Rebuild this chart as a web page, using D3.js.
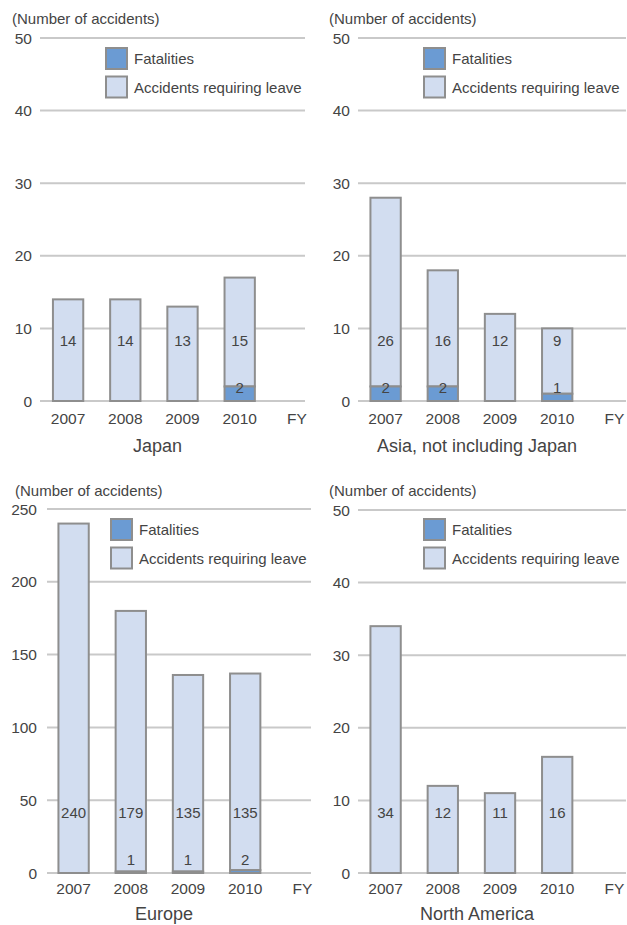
<!DOCTYPE html>
<html><head><meta charset="utf-8">
<script src="https://cdn.jsdelivr.net/npm/d3@7"></script>
<style>
html,body{margin:0;padding:0;background:#fff;}
text{font-family:"Liberation Sans",Arial,sans-serif;fill:#444;}
</style></head>
<body>
<svg id="c" width="627" height="925"></svg>
<script>
const years = ["2007","2008","2009","2010"];
const xCats = ["2007","2008","2009","2010","FY"];
const seriesNames = ["Fatalities","Accidents requiring leave"];
const axisTitle = "(Number of accidents)";

const regions = ["Japan","Asia, not including Japan","Europe","North America"];
const japanFatal = [0,0,0,2];
const japanLeave = [14,14,13,15];
const asiaFatal = [2,2,0,1];
const asiaLeave = [26,16,12,9];
const europeFatal = [0,1,1,2];
const europeLeave = [240,179,135,135];
const naFatal = [0,0,0,0];
const naLeave = [34,12,11,16];

const ticksSmall = [0,10,20,30,40,50];
const ticksEurope = [0,50,100,150,200,250];

const colFatal = "#6b9bd3";
const colLeave = "#d2ddf0";
const colStroke = "#8e8e8e";
const colGrid = "#c9c9c9";

const panels = [
  {name:regions[0], fatal:japanFatal, leave:japanLeave, ticks:ticksSmall, max:50,
   titleX:12, titleY:24, gx0:40, gx1:305, yTop:38, yBot:401, tickX:32, xStart:39.5, legX:105, legY:47, nameY:452, xLabY:424},
  {name:regions[1], fatal:asiaFatal, leave:asiaLeave, ticks:ticksSmall, max:50,
   titleX:329, titleY:24, gx0:358, gx1:626, yTop:38, yBot:401, tickX:350, xStart:357, legX:423, legY:47, nameY:452, xLabY:424},
  {name:regions[2], fatal:europeFatal, leave:europeLeave, ticks:ticksEurope, max:250,
   titleX:15, titleY:496, gx0:47, gx1:311, yTop:509, yBot:873, tickX:37, xStart:45, legX:110, legY:518, nameY:920, xLabY:894},
  {name:regions[3], fatal:naFatal, leave:naLeave, ticks:ticksSmall, max:50,
   titleX:329, titleY:496, gx0:358, gx1:626, yTop:510, yBot:873, tickX:350, xStart:357, legX:423, legY:518, nameY:920, xLabY:894}
];

const svg = d3.select("#c");
const step = 57.2;

panels.forEach(p => {
  const g = svg.append("g");
  const y = d3.scaleLinear().domain([0,p.max]).range([p.yBot,p.yTop]);
  const x = d3.scaleBand().domain(xCats).range([p.xStart, p.xStart + step*xCats.length]).paddingInner(0.47).paddingOuter(0.235);

  g.append("text").attr("x",p.titleX).attr("y",p.titleY).attr("font-size",15).text(axisTitle);

  g.selectAll("line.grid").data(p.ticks).enter().append("line")
    .attr("x1",p.gx0).attr("x2",p.gx1)
    .attr("y1",d=>y(d)).attr("y2",d=>y(d))
    .attr("stroke",colGrid).attr("stroke-width",2);
  g.selectAll("text.yt").data(p.ticks).enter().append("text")
    .attr("x",p.tickX).attr("y",d=>y(d)).attr("dy","0.36em")
    .attr("text-anchor","end").attr("font-size",15.5).text(d=>d);

  const data = years.map((yr,i)=>({yr, f:p.fatal[i], l:p.leave[i]}));
  const bw = x.bandwidth();
  data.forEach(d => {
    const cx = x(d.yr);
    g.append("rect").attr("x",cx).attr("width",bw)
      .attr("y",y(d.f+d.l)).attr("height",y(d.f)-y(d.f+d.l))
      .attr("fill",colLeave).attr("stroke",colStroke).attr("stroke-width",2);
    if (d.f>0) {
      g.append("rect").attr("x",cx).attr("width",bw)
        .attr("y",y(d.f)).attr("height",y(0)-y(d.f))
        .attr("fill",colFatal).attr("stroke",colStroke).attr("stroke-width",2);
    }
    g.append("text").attr("x",cx+bw/2).attr("y",y(0)-60).attr("dy","0.36em")
      .attr("text-anchor","middle").attr("font-size",15).text(d.l);
    if (d.f>0) {
      g.append("text").attr("x",cx+bw/2).attr("y",y(0)-13).attr("dy","0.36em")
        .attr("text-anchor","middle").attr("font-size",15).text(d.f);
    }
  });

  g.selectAll("text.xl").data(xCats).enter().append("text")
    .attr("x",d=>x(d)+bw/2).attr("y",p.xLabY)
    .attr("text-anchor","middle").attr("font-size",15.5).text(d=>d);

  g.append("text").attr("x",(p.gx0+p.gx1)/2 - 15).attr("y",p.nameY)
    .attr("text-anchor","middle").attr("font-size",18).text(p.name);

  const leg = g.append("g").attr("transform",`translate(${p.legX},${p.legY})`);
  [colFatal,colLeave].forEach((c,i)=>{
    leg.append("rect").attr("x",1).attr("y",1+i*28.5).attr("width",21).attr("height",21)
      .attr("fill",c).attr("stroke",colStroke).attr("stroke-width",2);
    leg.append("text").attr("x",29).attr("y",12+i*28.5).attr("dy","0.36em")
      .attr("font-size",15).text(seriesNames[i]);
  });
});
</script>
</body></html>
